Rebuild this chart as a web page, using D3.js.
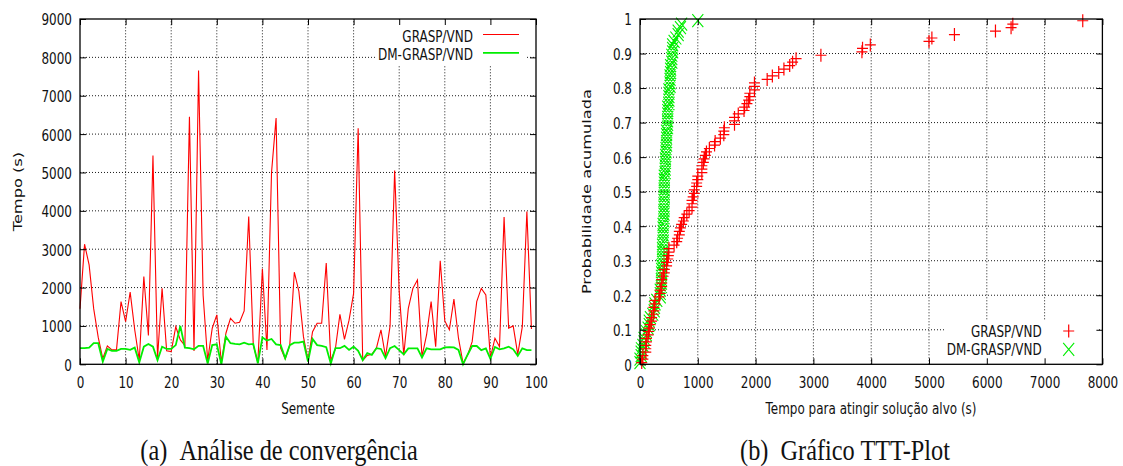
<!DOCTYPE html>
<html><head><meta charset="utf-8">
<script src="https://cdn.jsdelivr.net/npm/d3@7"></script>
<style>
html,body{margin:0;padding:0;background:#fff;}
</style></head>
<body>
<svg id="c" width="1123" height="466"></svg>
<script>
// ---------- DATA ----------
const seeds = d3.range(0, 100);
const graspTimes = [1450,3130,2590,1450,700,150,480,375,375,1635,
 1110,1880,900,110,2290,750,5440,160,1980,350,
 330,980,635,490,6450,350,7660,1800,100,940,
 1290,50,810,1200,1070,1096,1390,3850,500,50,
 2490,375,5000,6420,420,140,500,2400,1900,720,
 110,850,1070,1070,2640,100,400,1300,650,1150,
 1850,6150,100,230,260,420,900,200,1000,5050,
 1900,240,1460,1980,2200,200,765,1635,460,2700,
 1130,900,1700,680,30,240,590,1635,1980,1810,
 175,680,460,3840,940,1000,260,980,3985,920];
const dmTimes = [420,420,435,550,550,70,400,350,350,400,
 400,375,435,50,460,530,460,110,460,400,
 400,500,1000,435,420,390,480,480,20,500,
 520,0,720,550,530,520,565,520,530,25,
 700,620,660,520,500,160,500,565,565,590,
 70,660,500,480,445,20,420,420,480,375,
 460,350,110,290,245,420,400,160,420,477,
 370,260,415,415,415,180,415,390,390,390,
 440,450,440,375,0,250,477,477,370,415,
 140,450,390,415,460,390,220,415,370,370];
const seriesNames = ["GRASP/VND", "DM-GRASP/VND"];
const leftXTicks = [0,10,20,30,40,50,60,70,80,90,100];
const leftYTicks = [0,1000,2000,3000,4000,5000,6000,7000,8000,9000];
const rightXTicks = [0,1000,2000,3000,4000,5000,6000,7000,8000];
const rightYTicks = [0,0.1,0.2,0.3,0.4,0.5,0.6,0.7,0.8,0.9,1];
const captions = ["(a)\u2002Análise de convergência", "(b)\u2002Gráfico TTT-Plot"];

// TTT-plot: sorted times with empirical cumulative probability
function ttt(arr){ const s = arr.slice().sort((a,b)=>a-b); return s.map((t,i)=>({t, p:(i+0.5)/s.length})); }
const tttGrasp = ttt(graspTimes);
const tttDm = ttt(dmTimes);

// ---------- LAYOUT ----------
const STRETCH = 1.35;
const SANS = "'DejaVu Sans', sans-serif";
const SERIF = "'Liberation Serif', 'Times New Roman', serif";
const RED = "#ff0000", GREEN = "#00ee00";
const svg = d3.select("#c");

function panel(x, y, xTicks, yTicks){
  const g = svg.append("g");
  const [x0,x1] = x.range(), [y0,y1] = y.range();
  g.append("g").selectAll("line").data(xTicks.slice(1,-1)).join("line")
    .attr("x1",d=>x(d)).attr("x2",d=>x(d)).attr("y1",y0).attr("y2",y1)
    .attr("stroke","#000").attr("stroke-width",0.9).attr("stroke-dasharray","1,2");
  g.append("g").selectAll("line").data(yTicks.slice(1,-1)).join("line")
    .attr("y1",d=>y(d)).attr("y2",d=>y(d)).attr("x1",x0).attr("x2",x1)
    .attr("stroke","#000").attr("stroke-width",0.9).attr("stroke-dasharray","1,2");
  return g;
}
function axes(g, x, y, xTicks, yTicks, xFmt, yFmt){
  const [x0,x1] = x.range(), [y0,y1] = y.range();
  const ax = g.append("g").attr("transform",`translate(0,${y0})`)
    .call(d3.axisBottom(x).tickValues(xTicks).tickFormat(xFmt).tickSizeInner(-6).tickSizeOuter(0).tickPadding(0));
  ax.selectAll("text").attr("y",0).attr("dy",0).attr("transform",`translate(0,23.6) scale(1,${STRETCH})`);
  const ay = g.append("g").attr("transform",`translate(${x0},0)`)
    .call(d3.axisLeft(y).tickValues(yTicks).tickFormat(yFmt).tickSizeInner(-6).tickSizeOuter(0).tickPadding(8));
  ay.selectAll("text").attr("y",0).attr("dy",0).attr("transform",`translate(0,5.9) scale(1,${STRETCH})`);
  g.append("g").attr("transform",`translate(0,${y1})`)
    .call(d3.axisTop(x).tickValues(xTicks).tickFormat("").tickSizeInner(-6).tickSizeOuter(0));
  g.append("g").attr("transform",`translate(${x1},0)`)
    .call(d3.axisRight(y).tickValues(yTicks).tickFormat("").tickSizeInner(-6).tickSizeOuter(0));
  g.selectAll(".domain").remove();
  g.selectAll(".tick line").attr("stroke","#000").attr("stroke-width",1);
  g.selectAll(".tick text").attr("fill","#111").style("font-size","12px").style("font-family",SANS);
  g.append("rect").attr("x",x0).attr("y",y1).attr("width",x1-x0).attr("height",y0-y1)
    .attr("fill","none").attr("stroke","#000").attr("stroke-width",1.3);
}
function label(txt, x, y, anchor, rot, size, fam, stretch){
  svg.append("text").attr("transform",`translate(${x},${y}) scale(1,${stretch})${rot?" rotate(-90)":""}`)
    .attr("text-anchor",anchor).attr("fill","#111")
    .style("font-size",size+"px").style("font-family",fam||SANS).text(txt);
}

// ---------- LEFT: convergence ----------
const xL = d3.scaleLinear().domain([0,100]).range([80,536]);
const yL = d3.scaleLinear().domain([0,9000]).range([364.3,19]);
const gL = panel(xL, yL, leftXTicks, leftYTicks);
gL.append("rect").attr("x",377).attr("y",20).attr("width",150).attr("height",45).attr("fill","#fff");
const line = d3.line().x((d,i)=>xL(seeds[i])).y(d=>yL(d));
gL.append("path").datum(graspTimes).attr("d",line).attr("fill","none").attr("stroke",RED).attr("stroke-width",1.1);
gL.append("path").datum(dmTimes).attr("d",line).attr("fill","none").attr("stroke",GREEN).attr("stroke-width",1.8);
axes(gL, xL, yL, leftXTicks, leftYTicks, d3.format("d"), d3.format("d"));
label(seriesNames[0], 473, 41.5, "end", false, 12, null, STRETCH);
label(seriesNames[1], 473, 59.5, "end", false, 12, null, STRETCH);
gL.append("line").attr("x1",483).attr("x2",519).attr("y1",34.5).attr("y2",34.5).attr("stroke",RED).attr("stroke-width",1.1);
gL.append("line").attr("x1",483).attr("x2",519).attr("y1",52.8).attr("y2",52.8).attr("stroke",GREEN).attr("stroke-width",1.8);
label("Tempo (s)", 22, 191.6, "middle", true, 12, null, STRETCH);
label("Semente", 308, 414, "middle", false, 12, null, STRETCH);

// ---------- RIGHT: TTT plot ----------
const xR = d3.scaleLinear().domain([0,8000]).range([640,1102.4]);
const yR = d3.scaleLinear().domain([0,1]).range([364.3,19]);
const gR = panel(xR, yR, rightXTicks, rightYTicks);
gR.append("rect").attr("x",946).attr("y",321).attr("width",153).attr("height",43).attr("fill","#fff");
const plus = (cx,cy)=>`M${cx-5.5},${cy}H${cx+5.5}M${cx},${cy-6.5}V${cy+6.5}`;
const cross = (cx,cy)=>`M${cx-5.5},${cy-6.5}L${cx+5.5},${cy+6.5}M${cx-5.5},${cy+6.5}L${cx+5.5},${cy-6.5}`;
gR.append("path").attr("d", tttDm.map(d=>cross(xR(d.t),yR(d.p))).join(""))
  .attr("fill","none").attr("stroke",GREEN).attr("stroke-width",1.1);
gR.append("path").attr("d", tttGrasp.map(d=>plus(xR(d.t),yR(d.p))).join(""))
  .attr("fill","none").attr("stroke",RED).attr("stroke-width",1.2);
axes(gR, xR, yR, rightXTicks, rightYTicks, d3.format("d"), d=>d===0?"0":d===1?"1":d3.format(".1f")(d));
label(seriesNames[0], 1041.7, 336.7, "end", false, 12, null, STRETCH);
label(seriesNames[1], 1041.7, 355, "end", false, 12, null, STRETCH);
gR.append("path").attr("d",plus(1068.7,331)).attr("stroke",RED).attr("stroke-width",1.2).attr("fill","none");
gR.append("path").attr("d",cross(1068.7,349.3)).attr("stroke",GREEN).attr("stroke-width",1.1).attr("fill","none");
label("Probabilidade acumulada", 591, 191.6, "middle", true, 12, null, STRETCH);
label("Tempo para atingir solução alvo (s)", 871, 414, "middle", false, 12, null, STRETCH);

// ---------- captions ----------
label(captions[0], 279, 460, "middle", false, 24.3, SERIF, 1.2);
label(captions[1], 845, 460, "middle", false, 24.3, SERIF, 1.2);
</script>
</body></html>
